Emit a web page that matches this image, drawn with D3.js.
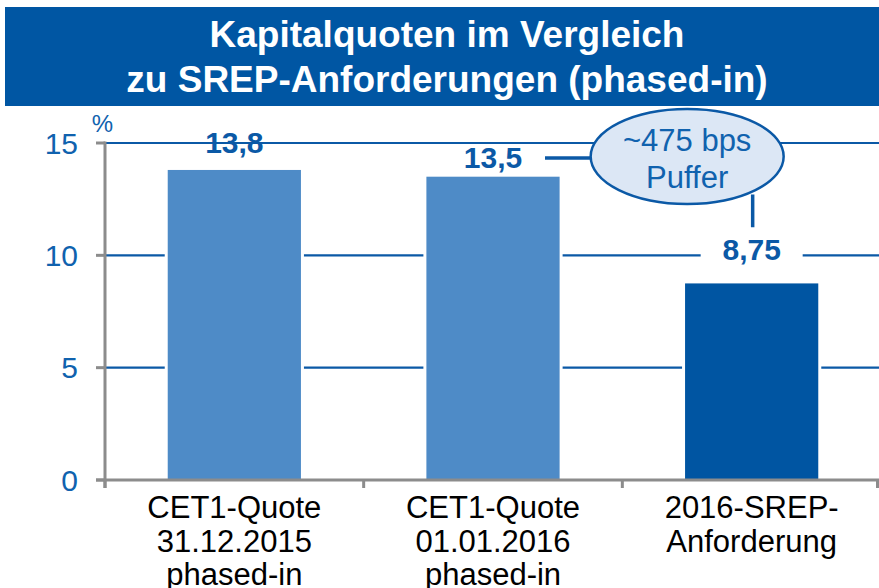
<!DOCTYPE html>
<html>
<head>
<meta charset="utf-8">
<script src="https://cdn.jsdelivr.net/npm/d3@7"></script>
<style>
  html, body { margin: 0; padding: 0; background: #ffffff; }
  svg { display: block; font-family: "Liberation Sans", Arial, sans-serif; }
</style>
</head>
<body>
<svg id="chart" width="879" height="588"></svg>
<script>
// ---- data ----
const titleLines = ["Kapitalquoten im Vergleich", "zu SREP-Anforderungen (phased-in)"];
const categories = ["CET1-Quote 31.12.2015", "CET1-Quote 01.01.2016", "2016-SREP-Anforderung"];
const categoryLabelLines = [
  ["CET1-Quote", "31.12.2015", "phased-in"],
  ["CET1-Quote", "01.01.2016", "phased-in"],
  ["2016-SREP-", "Anforderung"]
];
const values = [13.8, 13.5, 8.75];
const valueLabels = ["13,8", "13,5", "8,75"];
const barColors = ["#4e8bc7", "#4e8bc7", "#0055a2"];
const yTicks = [0, 5, 10, 15];
const yUnit = "%";
const bufferLines = ["~475 bps", "Puffer"];

// ---- layout ----
const W = 879, H = 588;
const svg = d3.select("#chart");
const blue = "#0b59a6";
const tickBlue = "#1062ae";
const gray = "#8c8c8c";

const x = d3.scaleBand().domain(categories).range([105, 881]).paddingInner(0.485).paddingOuter(0.2425);
const y = d3.scaleLinear().domain([0, 15]).range([480, 143]);
const cx = c => x(c) + x.bandwidth() / 2;

// title banner
svg.append("rect").attr("x", 5).attr("y", 7).attr("width", W - 5).attr("height", 99).attr("fill", "#0056a3");
svg.append("g").selectAll("text").data(titleLines).join("text")
  .attr("x", 447).attr("y", (d, i) => 47 + i * 44.5)
  .attr("text-anchor", "middle").attr("fill", "#ffffff")
  .attr("font-weight", "bold").attr("font-size", 37)
  .text(d => d);

// gridlines
svg.append("g").selectAll("line").data(yTicks.filter(t => t > 0)).join("line")
  .attr("x1", 105).attr("x2", W).attr("y1", d => y(d)).attr("y2", d => y(d))
  .attr("stroke", blue).attr("stroke-width", 2.2);

// knockouts around bars
svg.append("g").selectAll("rect").data(values).join("rect")
  .attr("x", (d, i) => x(categories[i]) - 3)
  .attr("y", d => y(d) - 3)
  .attr("width", x.bandwidth() + 6)
  .attr("height", d => y(0) - y(d) + 3)
  .attr("fill", "#ffffff");

// bars
svg.append("g").selectAll("rect").data(values).join("rect")
  .attr("x", (d, i) => x(categories[i]))
  .attr("y", d => y(d))
  .attr("width", x.bandwidth())
  .attr("height", d => y(0) - y(d))
  .attr("fill", (d, i) => barColors[i]);

// y axis (gray)
const axisG = svg.append("g");
axisG.append("line").attr("x1", 105).attr("x2", 105).attr("y1", y(15) - 1.5).attr("y2", y(0) + 8)
  .attr("stroke", gray).attr("stroke-width", 3);
axisG.selectAll("line.ytick").data(yTicks).join("line").attr("class", "ytick")
  .attr("x1", 96).attr("x2", 105).attr("y1", d => y(d)).attr("y2", d => y(d))
  .attr("stroke", gray).attr("stroke-width", 3);
axisG.selectAll("text.ylab").data(yTicks).join("text").attr("class", "ylab")
  .attr("x", 78).attr("y", d => y(d) + 10.7)
  .attr("text-anchor", "end").attr("fill", tickBlue).attr("font-size", 30)
  .text(d => d);
axisG.append("text").attr("x", 102.5).attr("y", 132).attr("text-anchor", "middle")
  .attr("fill", tickBlue).attr("font-size", 24).text(yUnit);

// x axis
axisG.append("line").attr("x1", 96).attr("x2", W).attr("y1", y(0)).attr("y2", y(0))
  .attr("stroke", gray).attr("stroke-width", 3);
const boundaries = categories.map(c => x(c) - x.step() * x.paddingInner() / 2).concat([x(categories[2]) + x.bandwidth() + x.step() * x.paddingInner() / 2]);
axisG.selectAll("line.xtick").data(boundaries).join("line").attr("class", "xtick")
  .attr("x1", d => Math.min(d, W - 1.5)).attr("x2", d => Math.min(d, W - 1.5))
  .attr("y1", y(0)).attr("y2", y(0) + 8)
  .attr("stroke", gray).attr("stroke-width", 3);

// category labels
const catG = svg.append("g");
categoryLabelLines.forEach((lines, i) => {
  catG.append("g").selectAll("text").data(lines).join("text")
    .attr("x", cx(categories[i])).attr("y", (d, j) => 518 + j * 33.5)
    .attr("text-anchor", "middle").attr("fill", "#000000").attr("font-size", 31)
    .text(d => d);
});

// buffer annotation
const ellCx = cx(categories[2]) - 64.5, ellCy = y(14.4), rx = 96.5, ry = 47.5;
const annG = svg.append("g");
annG.append("line").attr("x1", cx(categories[1]) + 52).attr("x2", ellCx - rx + 2)
  .attr("y1", ellCy + 1.5).attr("y2", ellCy + 1.5).attr("stroke", blue).attr("stroke-width", 3.5);
annG.append("line").attr("x1", cx(categories[2]) + 1).attr("x2", cx(categories[2]) + 1)
  .attr("y1", ellCy + 38).attr("y2", y(11.25)).attr("stroke", blue).attr("stroke-width", 3.5);
annG.append("ellipse").attr("cx", ellCx).attr("cy", ellCy).attr("rx", rx).attr("ry", ry)
  .attr("fill", "#dce7f5").attr("stroke", blue).attr("stroke-width", 2.5);
annG.selectAll("text").data(bufferLines).join("text")
  .attr("x", ellCx).attr("y", (d, i) => 150.5 + i * 37.5)
  .attr("text-anchor", "middle").attr("fill", tickBlue).attr("font-size", 31)
  .text(d => d);

// value labels
const labG = svg.append("g");
const labelY = [153, 168, 260];
values.forEach((v, i) => {
  if (i === 2) {
    labG.append("rect").attr("x", cx(categories[i]) - 51).attr("y", y(10) - 3)
      .attr("width", 102).attr("height", 6).attr("fill", "#ffffff");
  }
  labG.append("text").attr("x", cx(categories[i])).attr("y", labelY[i])
    .attr("text-anchor", "middle").attr("fill", blue).attr("font-weight", "bold").attr("font-size", 30)
    .text(valueLabels[i]);
});
</script>
</body>
</html>
